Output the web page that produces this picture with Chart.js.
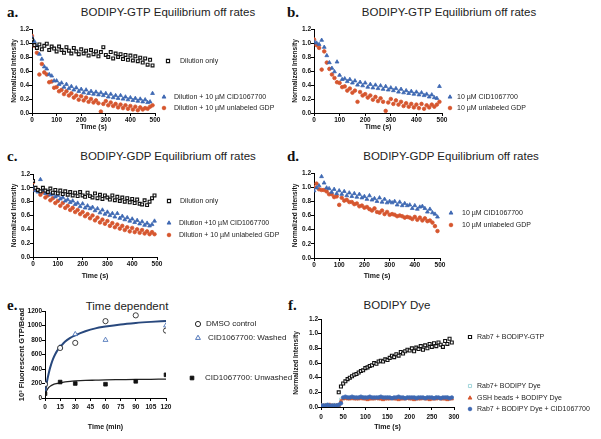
<!DOCTYPE html>
<html>
<head>
<meta charset="utf-8">
<script src="https://cdn.jsdelivr.net/npm/chart.js@4.4.0/dist/chart.umd.min.js"></script>
<style>
  body { margin: 0; background: #fff; width: 601px; height: 439px; position: relative; overflow: hidden; font-family: "Liberation Sans", Arial, sans-serif; }
  canvas { position: absolute; }
  .ttl { position: absolute; width: 300px; text-align: center; font-size: 11.5px; color: #222; line-height: 12px; }
  .lab { position: absolute; font-family: "Liberation Serif", "Times New Roman", serif; font-weight: bold; font-size: 15px; line-height: 16px; color: #111; }
</style>
</head>
<body>
<div class="lab" style="left:7px;top:4px">a.</div>
<div class="lab" style="left:287px;top:4px">b.</div>
<div class="lab" style="left:7px;top:148px">c.</div>
<div class="lab" style="left:287px;top:148px">d.</div>
<div class="lab" style="left:7px;top:297px">e.</div>
<div class="lab" style="left:288px;top:297px">f.</div>
<div class="ttl" style="left:18px;top:6px">BODIPY-GTP Equilibrium off rates</div>
<div class="ttl" style="left:299px;top:6px">BODIPY-GTP Equilibrium off rates</div>
<div class="ttl" style="left:18px;top:150px">BODIPY-GDP Equilibrium off rates</div>
<div class="ttl" style="left:301px;top:150px">BODIPY-GDP Equilibrium off rates</div>
<div class="ttl" style="left:-23px;top:300px">Time dependent</div>
<div class="ttl" style="left:247px;top:299px">BODIPY Dye</div>

<canvas id="ca" width="300" height="114" style="left:0;top:18px"></canvas>
<canvas id="cb" width="316" height="114" style="left:285px;top:18px"></canvas>
<canvas id="cc" width="300" height="122" style="left:0;top:162px"></canvas>
<canvas id="cd" width="316" height="122" style="left:285px;top:162px"></canvas>
<canvas id="ce" width="300" height="135" style="left:0;top:300px"></canvas>
<canvas id="cf" width="316" height="134" style="left:285px;top:305px"></canvas>

<script>
// ---- data ----
const timeS = [0,10,20,30,40,50,60,70,80,90,100,110,120,130,140,150,160,170,180,190,
  200,210,220,230,240,250,260,270,280,290,300,310,320,330,340,350,360,370,380,390,
  400,410,420,430,440,450,460,470,480,490];

const aDilution = [1.05,0.97,0.93,0.98,0.91,0.96,0.99,0.90,0.95,0.92,
  0.88,0.95,0.90,0.86,0.94,0.89,0.85,0.93,0.88,0.84,
  0.91,0.85,0.89,0.82,0.90,0.84,0.88,0.81,0.87,0.94,
  0.83,0.80,0.87,0.78,0.85,0.80,0.84,0.77,0.83,0.76,
  0.82,0.75,0.81,0.74,0.79,0.72,0.78,0.69,0.76,0.68];
const aCID = [1.08,1.02,0.95,0.84,0.77,0.66,0.63,0.55,0.53,0.46,
  0.46,0.41,0.43,0.37,0.41,0.35,0.38,0.33,0.36,0.31,
  0.34,0.29,0.33,0.28,0.31,0.27,0.30,0.26,0.29,0.25,
  0.28,0.23,0.27,0.22,0.25,0.21,0.25,0.20,0.23,0.19,
  0.22,0.18,0.21,0.17,0.20,0.16,0.19,0.15,0.16,0.28];
const aGDP = [1.10,0.96,0.86,0.55,0.70,0.58,0.55,0.44,0.45,0.36,
  0.37,0.31,0.33,0.27,0.31,0.25,0.28,0.22,0.25,0.19,
  0.24,0.18,0.22,0.16,0.20,0.15,0.18,0.14,0.02,0.13,
  0.17,0.11,0.15,0.10,0.13,0.08,0.12,0.07,0.11,0.06,
  0.10,0.05,0.09,0.04,0.08,0.05,0.07,0.06,0.09,0.11];

const bCID = [1.02,1.00,0.98,1.04,0.94,0.82,0.72,0.64,0.59,0.73,
  0.54,0.48,0.49,0.45,0.48,0.43,0.46,0.40,0.44,0.39,
  0.43,0.37,0.41,0.36,0.40,0.35,0.39,0.34,0.38,0.33,
  0.36,0.32,0.35,0.30,0.34,0.29,0.32,0.28,0.31,0.27,
  0.30,0.26,0.29,0.25,0.27,0.23,0.26,0.22,0.21,0.38];
const bGDP = [1.05,0.97,0.93,0.62,0.88,0.72,0.63,0.55,0.50,0.44,
  0.43,0.37,0.38,0.32,0.35,0.29,0.32,0.16,0.30,0.25,
  0.27,0.22,0.25,0.19,0.23,0.17,0.21,0.16,0.03,0.15,
  0.20,0.13,0.18,0.12,0.16,0.10,0.14,0.09,0.13,0.08,
  0.12,0.07,0.13,0.06,0.11,0.08,0.12,0.09,0.12,0.16];

const cDilution = [1.10,1.00,0.97,0.95,1.00,0.96,0.94,0.99,0.93,0.97,
  0.92,0.96,0.91,0.95,0.90,0.94,0.89,0.93,0.88,0.94,
  0.89,0.87,0.93,0.88,0.86,0.92,0.85,0.90,0.84,0.89,
  0.86,0.83,0.89,0.82,0.87,0.81,0.86,0.80,0.85,0.79,
  0.84,0.78,0.83,0.77,0.76,0.82,0.75,0.80,0.85,0.89];
const cCID = [1.00,0.96,0.94,1.12,0.97,0.92,0.94,0.90,0.91,0.87,
  0.89,0.84,0.86,0.81,0.83,0.79,0.81,0.76,0.78,0.73,
  0.77,0.71,0.74,0.70,0.72,0.67,0.70,0.64,0.68,0.62,
  0.65,0.60,0.63,0.58,0.63,0.56,0.59,0.54,0.57,0.52,
  0.55,0.50,0.53,0.48,0.51,0.46,0.49,0.45,0.47,0.52];
const cGDP = [1.08,0.97,0.97,0.90,0.94,0.86,0.89,0.82,0.85,0.78,
  0.81,0.74,0.78,0.71,0.74,0.68,0.71,0.65,0.68,0.62,
  0.65,0.59,0.62,0.56,0.60,0.53,0.57,0.50,0.54,0.48,
  0.52,0.45,0.49,0.43,0.47,0.41,0.45,0.39,0.43,0.37,
  0.42,0.36,0.40,0.35,0.39,0.34,0.37,0.33,0.36,0.33];

const dCID = [0.95,0.99,1.02,1.15,1.06,0.99,0.98,0.93,0.97,0.91,
  0.95,0.90,0.94,0.88,0.92,0.87,0.91,0.86,0.90,0.85,
  0.87,0.83,0.88,0.82,0.84,0.80,0.85,0.79,0.83,0.78,
  0.80,0.78,0.80,0.75,0.79,0.74,0.77,0.74,0.75,0.70,
  0.74,0.69,0.72,0.73,0.70,0.65,0.69,0.64,0.62,0.58];
const dGDP = [1.00,1.05,0.97,0.96,0.96,0.94,0.90,0.90,0.86,0.87,
  0.75,0.85,0.81,0.82,0.79,0.79,0.76,0.77,0.73,0.74,
  0.71,0.72,0.69,0.67,0.70,0.65,0.64,0.67,0.62,0.65,
  0.61,0.62,0.61,0.59,0.60,0.59,0.57,0.58,0.57,0.55,
  0.58,0.54,0.57,0.53,0.56,0.52,0.53,0.50,0.45,0.38];

const eTimeDMSO = [0,15,30,60,90,120];
const eDMSO = [190,690,760,1060,1140,930];
const eTimeWashed = [0,15,30,60,120];
const eWashed = [200,700,880,800,1000];
const eTimeUnwashed = [0,15,30,60,90,120];
const eUnwashed = [60,220,200,190,230,320];
const eFitTime = [0,2,4,6,8,10,12,15,20,25,30,40,50,60,75,90,105,120];
const eFitWashed = [50,230,360,460,540,600,650,700,780,830,865,920,960,985,1015,1035,1050,1062];
const eFitUnwashed = [50,110,150,170,185,195,200,210,222,230,235,242,246,250,253,256,258,260];

const fTime = [0,5,10,15,20,25,30,35,40,45,50,55,60,65,70,75,80,85,90,95,
  100,105,110,115,120,125,130,135,140,145,150,155,160,165,170,175,180,185,190,195,
  200,205,210,215,220,225,230,235,240,245,250,255,260,265,270,275,280,285,290,295];
const fTimeGTP = [40,45,50,55,60,65,70,75,80,85,90,95,100,105,110,115,120,125,130,135,
  140,145,150,155,160,165,170,175,180,185,190,195,200,205,210,215,220,225,230,235,
  240,245,250,255,260,265,270,275,280,285,290,295];
const fGTP = [0.20,0.28,0.32,0.35,0.38,0.40,0.42,0.44,0.45,0.47,
  0.49,0.50,0.53,0.54,0.56,0.57,0.60,0.59,0.62,0.63,
  0.62,0.65,0.64,0.67,0.70,0.68,0.72,0.70,0.75,0.73,
  0.76,0.78,0.77,0.80,0.76,0.81,0.79,0.83,0.78,0.84,
  0.80,0.86,0.82,0.87,0.83,0.88,0.85,0.82,0.90,0.86,0.93,0.88];
const fDye = [0.02,0.02,0.03,0.02,0.02,0.02,0.03,0.02,0.02,0.10,
  0.12,0.12,0.13,0.12,0.12,0.13,0.12,0.12,0.12,0.13,
  0.12,0.12,0.13,0.12,0.12,0.12,0.13,0.12,0.12,0.12,
  0.13,0.12,0.12,0.12,0.12,0.13,0.12,0.12,0.12,0.13,
  0.12,0.12,0.12,0.13,0.12,0.12,0.12,0.12,0.13,0.12,
  0.12,0.12,0.13,0.12,0.12,0.12,0.12,0.13,0.12,0.12];
const fGSH = [0.02,0.02,0.02,0.02,0.03,0.02,0.02,0.02,0.02,0.08,
  0.11,0.12,0.11,0.11,0.12,0.11,0.11,0.11,0.12,0.11,
  0.11,0.10,0.11,0.11,0.11,0.12,0.11,0.11,0.10,0.11,
  0.11,0.11,0.12,0.11,0.11,0.10,0.11,0.11,0.11,0.12,
  0.11,0.11,0.10,0.11,0.11,0.11,0.12,0.11,0.11,0.10,
  0.11,0.11,0.11,0.12,0.11,0.11,0.11,0.10,0.11,0.11];
const fDyeCID = [0.02,0.02,0.02,0.03,0.02,0.02,0.02,0.02,0.03,0.05,
  0.13,0.14,0.13,0.13,0.14,0.13,0.13,0.13,0.14,0.13,
  0.13,0.13,0.14,0.13,0.13,0.13,0.13,0.14,0.13,0.13,
  0.13,0.13,0.12,0.13,0.13,0.14,0.13,0.13,0.12,0.13,
  0.13,0.13,0.13,0.12,0.13,0.13,0.13,0.12,0.13,0.13,
  0.13,0.12,0.13,0.13,0.12,0.13,0.13,0.13,0.12,0.13];

// ---- styling ----
const BLUE = 'rgb(62,104,178)';
const RED = 'rgb(214,86,46)';
const TEAL = 'rgb(150,208,214)';
const DARKBLUE = 'rgb(40,72,125)';

Chart.defaults.font.family = '"Liberation Sans", Arial, sans-serif';
Chart.defaults.color = '#111';
Chart.defaults.animation = false;

function xy(xs, ys) { return xs.map((x, i) => ({ x: x, y: ys[i] })); }

function pts(label, xs, ys, style, color, open, r, bw) {
  return {
    label: label, data: xy(xs, ys), showLine: false,
    pointStyle: style, pointRadius: r || 2, pointHoverRadius: r || 2,
    pointBorderWidth: bw || 0.8, pointBorderColor: color,
    pointBackgroundColor: open ? 'rgba(255,255,255,0.9)' : color
  };
}

function sideLegend(items) {
  return {
    id: 'sideLegend',
    afterDraw(chart) {
      const ctx = chart.ctx;
      ctx.save();
      items.forEach(it => {
        ctx.fillStyle = it.open ? '#fff' : it.color;
        ctx.strokeStyle = it.color;
        ctx.lineWidth = it.bw || 0.9;
        Chart.helpers.drawPoint(ctx, { pointStyle: it.style, radius: it.r || 2.2, rotation: 0, borderWidth: it.bw || 0.9 }, it.x, it.y);
        ctx.fillStyle = '#222';
        ctx.font = (it.size || 7) + 'px "Liberation Sans", Arial, sans-serif';
        ctx.textBaseline = 'middle';
        ctx.textAlign = 'left';
        ctx.fillText(it.text, it.tx, it.y);
      });
      ctx.restore();
    }
  };
}

function axis(o) {
  return {
    type: 'linear', min: o.min, max: o.max,
    ticks: { stepSize: o.step, font: { size: 6.5, weight: 'bold' }, color: '#111', padding: o.tpad || 0,
      maxRotation: 0, autoSkip: false, callback: o.fmt || (v => v) },
    grid: { drawOnChartArea: false, color: '#000', tickLength: 3, tickWidth: 1 },
    border: { color: '#000', width: 1 },
    title: { display: true, text: o.title, font: { size: o.tsize || 7, weight: 'bold', lineHeight: 1 }, color: '#111',
      padding: o.tp },
    afterFit: s => { if (o.w !== undefined) s.width = o.w; if (o.h !== undefined) s.height = o.h; }
  };
}

function makeChart(id, datasets, g, legendItems) {
  return new Chart(document.getElementById(id), {
    type: 'scatter',
    data: { datasets: datasets },
    options: {
      responsive: false,
      layout: { padding: { left: 0, top: g.T, right: g.R, bottom: 0 } },
      plugins: { legend: { display: false }, tooltip: { enabled: false } },
      scales: {
        x: axis(Object.assign({ h: g.B, tp: { top: 0, bottom: g.xtp } }, g.x)),
        y: axis(Object.assign({ w: g.L, tp: { top: g.ytp, bottom: 0 } }, g.y))
      }
    },
    plugins: [sideLegend(legendItems)]
  });
}

const fmt1 = v => v.toFixed(1);
const yNorm = { min: 0, max: 1.2, step: 0.2, title: 'Normalized Intensity', fmt: fmt1, tsize: 6.5 };
const x500 = { min: 0, max: 500, step: 100, title: 'Time (s)' };

// a
makeChart('ca', [
  pts('Dilution only', timeS, aDilution, 'rect', '#111', true, 2, 1.15),
  pts('Dilution + 10 µM CID1067700', timeS, aCID, 'triangle', BLUE, false, 2.2),
  pts('Dilution + 10 µM unlabeled GDP', timeS, aGDP, 'circle', RED, false, 1.8)
], { L: 32, R: 145, T: 11, B: 19, xtp: 1.5, ytp: 10.5, x: x500, y: yNorm }, [
  { text: 'Dilution only', style: 'rect', color: '#111', open: true, x: 168, y: 43, tx: 180, bw: 1.15 },
  { text: 'Dilution + 10 µM CID1067700', style: 'triangle', color: BLUE, x: 164, y: 79, tx: 174, r: 2.2 },
  { text: 'Dilution + 10 µM unlabeled GDP', style: 'circle', color: RED, x: 164, y: 90, tx: 174, r: 1.8 }
]);

// b
makeChart('cb', [
  pts('10 µM CID1067700', timeS, bCID, 'triangle', BLUE, false, 2.2),
  pts('10 µM unlabeled GDP', timeS, bGDP, 'circle', RED, false, 1.8)
], { L: 29, R: 159, T: 11, B: 19, xtp: 1.5, ytp: 6.5, x: x500, y: yNorm }, [
  { text: '10 µM CID1067700', style: 'triangle', color: BLUE, x: 165, y: 79, tx: 172, r: 2.2 },
  { text: '10 µM unlabeled GDP', style: 'circle', color: RED, x: 165, y: 90, tx: 172, r: 1.8 }
]);

// c
makeChart('cc', [
  pts('Dilution only', timeS, cDilution, 'rect', '#111', true, 2, 1.15),
  pts('Dilution +10 µM CID1067700', timeS, cCID, 'triangle', BLUE, false, 2.2),
  pts('Dilution + 10 µM unlabeled GDP', timeS, cGDP, 'circle', RED, false, 1.8)
], { L: 33, R: 143, T: 12, B: 27, xtp: 4.5, ytp: 10.5, x: x500, y: yNorm }, [
  { text: 'Dilution only', style: 'rect', color: '#111', open: true, x: 169, y: 39, tx: 180, bw: 1.15 },
  { text: 'Dilution +10 µM CID1067700', style: 'triangle', color: BLUE, x: 169, y: 61, tx: 179, r: 2.2 },
  { text: 'Dilution + 10 µM unlabeled GDP', style: 'circle', color: RED, x: 169, y: 73, tx: 179, r: 1.8 }
]);

// d
makeChart('cd', [
  pts('10 µM CID1067700', timeS, dCID, 'triangle', BLUE, false, 2.2),
  pts('10 µM unlabeled GDP', timeS, dGDP, 'circle', RED, false, 1.8)
], { L: 29, R: 161, T: 11, B: 26, xtp: 4.5, ytp: 6.5, x: x500, y: yNorm }, [
  { text: '10 µM CID1067700', style: 'triangle', color: BLUE, x: 166, y: 51, tx: 177, r: 2.2 },
  { text: '10 µM unlabeled GDP', style: 'circle', color: RED, x: 166, y: 63, tx: 177, r: 1.8 }
]);

// e
const eFitW = { label: 'fit washed', data: xy(eFitTime, eFitWashed), showLine: true, pointRadius: 0,
  borderColor: DARKBLUE, borderWidth: 2, cubicInterpolationMode: 'monotone' };
const eFitU = { label: 'fit unwashed', data: xy(eFitTime, eFitUnwashed), showLine: true, pointRadius: 0,
  borderColor: '#222', borderWidth: 1.3, cubicInterpolationMode: 'monotone' };
makeChart('ce', [
  pts('DMSO control', eTimeDMSO, eDMSO, 'circle', '#111', true, 2.6),
  pts('CID1067700: Washed', eTimeWashed, eWashed, 'triangle', BLUE, true, 2.8),
  pts('CID1067700: Unwashed', eTimeUnwashed, eUnwashed, 'rect', '#111', false, 2.6),
  eFitW, eFitU
], { L: 45, R: 134, T: 11, B: 37, xtp: 4.5, ytp: 18,
  x: { min: 0, max: 120, step: 15, title: 'Time (min)', tpad: 2.5 },
  y: { min: 0, max: 1200, step: 200, title: '10³ Fluorescent GTP/Bead', tsize: 7.5 } }, [
  { text: 'DMSO control', style: 'circle', color: '#111', open: true, x: 198, y: 24, tx: 206, r: 2.6, size: 8 },
  { text: 'CID1067700: Washed', style: 'triangle', color: BLUE, open: true, x: 198, y: 38, tx: 208, r: 2.8, size: 8 },
  { text: 'CID1067700: Unwashed', style: 'rect', color: '#111', x: 192, y: 78, tx: 205, r: 2.6, size: 8 }
]);

// f
makeChart('cf', [
  pts('Rab7 + BODIPY Dye + CID1067700', fTime, fDyeCID, 'circle', BLUE, false, 1.8),
  pts('GSH beads + BODIPY Dye', fTime, fGSH, 'triangle', RED, false, 2),
  pts('Rab7+ BODIPY Dye', fTime, fDye, 'rect', TEAL, true, 2),
  pts('Rab7 + BODIPY-GTP', fTimeGTP, fGTP, 'rect', '#111', true, 2.1, 1.1)
], { L: 36, R: 147, T: 14, B: 32, xtp: 8.5, ytp: 7.5,
  x: { min: 0, max: 300, step: 50, title: 'Time (s)', tpad: 3.5 }, y: yNorm }, [
  { text: 'Rab7 + BODIPY-GTP', style: 'rect', color: '#111', open: true, x: 185, y: 32, tx: 192, bw: 1.1 },
  { text: 'Rab7+ BODIPY Dye', style: 'rect', color: TEAL, open: true, x: 185, y: 81, tx: 192 },
  { text: 'GSH beads + BODIPY Dye', style: 'triangle', color: RED, x: 185, y: 93, tx: 192 },
  { text: 'Rab7 + BODIPY Dye + CID1067700', style: 'circle', color: BLUE, x: 185, y: 104, tx: 192, r: 1.8 }
]);
</script>
</body>
</html>
